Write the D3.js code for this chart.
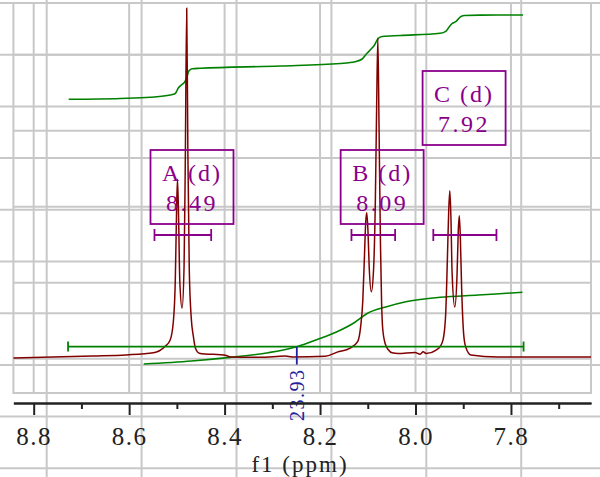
<!DOCTYPE html>
<html>
<head>
<meta charset="utf-8">
<title>1H NMR</title>
<script src="https://d3js.org/d3.v7.min.js"></script>
<style>
	body { margin: 0; background: #fff; }
	svg text { font-family: "Liberation Serif", "DejaVu Serif", serif; }
</style>
</head>
<body>
<script>
// spectrum trace (ppm, intensity)
var specPpm = [8.8425, 8.677, 8.606, 8.549, 8.525, 8.514, 8.5075, 8.5033, 8.5006, 8.4987,
	8.4964, 8.4939, 8.4891, 8.4849, 8.4824, 8.4794, 8.4769, 8.4740, 8.4698, 8.4656,
	8.4610, 8.4531, 8.3965, 8.3881, 8.3253, 8.2730, 8.2583, 8.1892, 8.1641, 8.1369,
	8.1210, 8.1147, 8.1105, 8.1072, 8.1042, 8.1021, 8.0996, 8.0971, 8.0925, 8.0879,
	8.0841, 8.0814, 8.0789, 8.0764, 8.0735, 8.0711, 8.0688, 8.0636, 8.0565, 8.0490,
	8.0364, 8.0008, 7.9903, 7.9840, 7.9778, 7.9568, 7.9485, 7.9422, 7.9369, 7.9332,
	7.9304, 7.9281, 7.9258, 7.9233, 7.9177, 7.9129, 7.9104, 7.9082, 7.9060, 7.9034,
	7.8993, 7.8951, 7.8842, 7.8281, 7.6323];
var specInt = [0.009, 0.036, 0.050, 0.077, 0.160, 0.247, 0.48, 1.03, 1.95, 2.36,
	1.86, 1.03, 0.665, 1.22, 2.55, 4.61, 2.69, 1.17, 0.53, 0.30,
	0.137, 0.073, 0.041, 0.022, 0.018, 0.036, 0.024, 0.032, 0.087, 0.14,
	0.229, 0.436, 0.757, 1.31, 1.81, 1.92, 1.68, 1.22, 0.88, 1.17,
	2.09, 3.33, 4.22, 3.05, 1.54, 0.75, 0.40, 0.20, 0.114, 0.077,
	0.068, 0.082, 0.059, 0.09, 0.068, 0.114, 0.16, 0.25, 0.57, 1.31,
	1.95, 2.21, 1.86, 1.12, 0.68, 1.12, 1.68, 1.88, 1.58, 0.94,
	0.34, 0.16, 0.05, 0.022, 0.022];

// upper integral curve
var intPpm = [8.7267, 8.6185, 8.5557, 8.5138, 8.5033, 8.4970, 8.4907, 8.4845, 8.4794, 8.4750,
	8.4677, 8.451, 8.2835, 8.1578, 8.1264, 8.1118, 8.1021, 8.0950, 8.0866, 8.0783,
	8.0699, 8.0322, 7.9485, 7.9359, 7.9281, 7.9233, 7.9149, 7.9066, 7.8982, 7.8647, 7.7747];
var intVal = [0, 0.0095, 0.024, 0.051, 0.069, 0.134, 0.170, 0.199, 0.253, 0.336,
	0.363, 0.368, 0.395, 0.425, 0.446, 0.478, 0.543, 0.585, 0.638, 0.721,
	0.745, 0.757, 0.783, 0.810, 0.870, 0.899, 0.923, 0.976, 0.994, 0.998, 1.0];

// lower (total) integral curve
var int2Ppm = [8.5693, 8.4692, 8.3890, 8.3086, 8.2487, 8.2047, 8.1645, 8.1285, 8.1005, 8.0605,
	8.0203, 7.9485, 7.8689, 7.7759];
var int2Val = [0, 0.042, 0.093, 0.158, 0.241, 0.344, 0.450, 0.576, 0.707, 0.799,
	0.869, 0.930, 0.962, 1.0];

// integral region and value
var integralFrom = [8.728];
var integralTo = [7.7736];
var integralAt = [8.2487];
var integralValue = ["23.93"];

// multiplets
var multName = ["A", "B", "C"];
var multType = ["d", "d", "d"];
var multShift = ["8.49", "8.09", "7.92"];
var multFrom = [8.5469, 8.1342, 7.9627];
var multTo = [8.4281, 8.0427, 7.8304];
var multLabelPpm = [8.4683, 8.0699, 7.8982];

// axis ticks
var majorTicks = [8.8, 8.6, 8.4, 8.2, 8.0, 7.8];
var minorTicks = [8.7, 8.5, 8.3, 8.1, 7.9, 7.7];

var W = 600, H = 477;
var boxL = 13.4, boxR = 591, boxT = 3, boxB = 393, axisY = 403;
var gridColor = "#c8c8c8";

var svg = d3.select("body").append("svg")
	.attr("width", W).attr("height", H);
svg.append("rect").attr("width", W).attr("height", H).attr("fill", "#fff");

var x = d3.scaleLinear().domain([8.8425, 7.6323]).range([boxL, boxR]);
var y = d3.scaleLinear().domain([0, 4]).range([358.7, 54.7]);
var yI1 = d3.scaleLinear().domain([0, 1]).range([99.3, 15]);
var yI2 = d3.scaleLinear().domain([0, 1]).range([364, 292.3]);

// page grid behind everything
var gx = d3.scaleLinear().domain([0, 5]).range([46.7, 521.2]);
var gy = d3.scaleLinear().domain([0, 9]).range([3, 468.3]);
var grid = svg.append("g").attr("stroke", gridColor).attr("stroke-width", 2);
grid.selectAll("line.gv").data(d3.range(6)).enter().append("line")
	.attr("x1", gx).attr("x2", gx).attr("y1", 0).attr("y2", H);
grid.selectAll("line.gh").data(d3.range(10)).enter().append("line")
	.attr("y1", gy).attr("y2", gy).attr("x1", 0).attr("x2", W);

// plot grid
grid.append("rect").attr("x", boxL).attr("y", boxT)
	.attr("width", boxR - boxL).attr("height", boxB - boxT).attr("fill", "none");
grid.selectAll("line.pv").data(majorTicks).enter().append("line")
	.attr("x1", x).attr("x2", x).attr("y1", boxT).attr("y2", boxB);
grid.selectAll("line.ph").data(y.ticks(4)).enter().append("line")
	.attr("y1", y).attr("y2", y).attr("x1", boxL).attr("x2", boxR);

// integral curves
var intLine = d3.line()
	.x(function(d, i) { return x(intPpm[i]); })
	.y(function(d) { return yI1(d); })
	.curve(d3.curveMonotoneX);
svg.append("path").attr("d", intLine(intVal))
	.attr("fill", "none").attr("stroke", "#008000").attr("stroke-width", 1.6);

var int2Line = d3.line()
	.x(function(d, i) { return x(int2Ppm[i]); })
	.y(function(d) { return yI2(d); })
	.curve(d3.curveMonotoneX);
svg.append("path").attr("d", int2Line(int2Val))
	.attr("fill", "none").attr("stroke", "#008000").attr("stroke-width", 1.6);

// spectrum
var specLine = d3.line()
	.x(function(d, i) { return x(specPpm[i]); })
	.y(function(d) { return y(d); })
	.curve(d3.curveMonotoneX);
svg.append("path").attr("d", specLine(specInt))
	.attr("fill", "none").attr("stroke", "#800000").attr("stroke-width", 1.5);

// integral bar with end caps
var barY = y(0.16);
integralFrom.forEach(function(f, i) {
	var g = svg.append("g").attr("stroke", "#008000").attr("stroke-width", 1.8);
	g.append("line").attr("x1", x(f)).attr("x2", x(integralTo[i])).attr("y1", barY).attr("y2", barY);
	g.append("line").attr("x1", x(f)).attr("x2", x(f)).attr("y1", barY - 5).attr("y2", barY + 5);
	g.append("line").attr("x1", x(integralTo[i])).attr("x2", x(integralTo[i])).attr("y1", barY - 5).attr("y2", barY + 5);
	var lx = x(integralAt[i]);
	svg.append("line").attr("x1", lx).attr("x2", lx).attr("y1", barY).attr("y2", barY + 18)
		.attr("stroke", "#2222a0").attr("stroke-width", 1.8);
	svg.append("text").text(integralValue[i])
		.attr("transform", "translate(" + lx + "," + (barY + 22) + ") rotate(-90)")
		.attr("text-anchor", "end").attr("dy", "0.35em")
		.attr("font-size", "20px").attr("letter-spacing", "1.5px")
		.attr("fill", "#2222a0");
});

// multiplet boxes and brackets
var boxTop = [150, 150, 71], boxW = 83, boxH = 74, bracketY = 235;
var purple = "#8b008b";
multName.forEach(function(n, i) {
	var cx = x(multLabelPpm[i]);
	var g = svg.append("g");
	g.append("rect").attr("x", cx - boxW / 2).attr("y", boxTop[i])
		.attr("width", boxW).attr("height", boxH)
		.attr("fill", "none").attr("stroke", purple).attr("stroke-width", 1.8);
	g.append("text").text(n + " (" + multType[i] + ")")
		.attr("x", cx).attr("y", boxTop[i] + 31)
		.attr("text-anchor", "middle").attr("font-size", "24px")
		.attr("letter-spacing", "2px").attr("fill", purple);
	g.append("text").text(multShift[i])
		.attr("x", cx).attr("y", boxTop[i] + 61)
		.attr("text-anchor", "middle").attr("font-size", "24px")
		.attr("letter-spacing", "2.5px").attr("fill", purple);
	var x1 = x(multFrom[i]), x2 = x(multTo[i]);
	var b = svg.append("g").attr("stroke", purple).attr("stroke-width", 1.8);
	b.append("line").attr("x1", x1).attr("x2", x2).attr("y1", bracketY).attr("y2", bracketY);
	b.append("line").attr("x1", x1).attr("x2", x1).attr("y1", bracketY - 6).attr("y2", bracketY + 6);
	b.append("line").attr("x1", x2).attr("x2", x2).attr("y1", bracketY - 6).attr("y2", bracketY + 6);
});

// x axis
var axis = svg.append("g").attr("transform", "translate(0," + axisY + ")");
axis.append("g").call(d3.axisBottom(x).tickValues(minorTicks).tickSize(6).tickSizeOuter(0).tickFormat(""));
axis.append("g").call(d3.axisBottom(x).tickValues(majorTicks).tickSize(12).tickSizeOuter(0)
	.tickFormat(d3.format(".1f")));
axis.selectAll("path.domain").attr("stroke", "#222").attr("stroke-width", 2.2);
axis.selectAll(".tick line").attr("stroke", "#222").attr("stroke-width", 2);
axis.selectAll(".tick text")
	.attr("y", 42).attr("dy", null)
	.attr("font-size", "25px").attr("letter-spacing", "1.5px")
	.attr("fill", "#222");

svg.append("text").text("f1 (ppm)")
	.attr("x", 300).attr("y", 472)
	.attr("text-anchor", "middle").attr("font-size", "23px")
	.attr("letter-spacing", "2px").attr("fill", "#222");
</script>
</body>
</html>
